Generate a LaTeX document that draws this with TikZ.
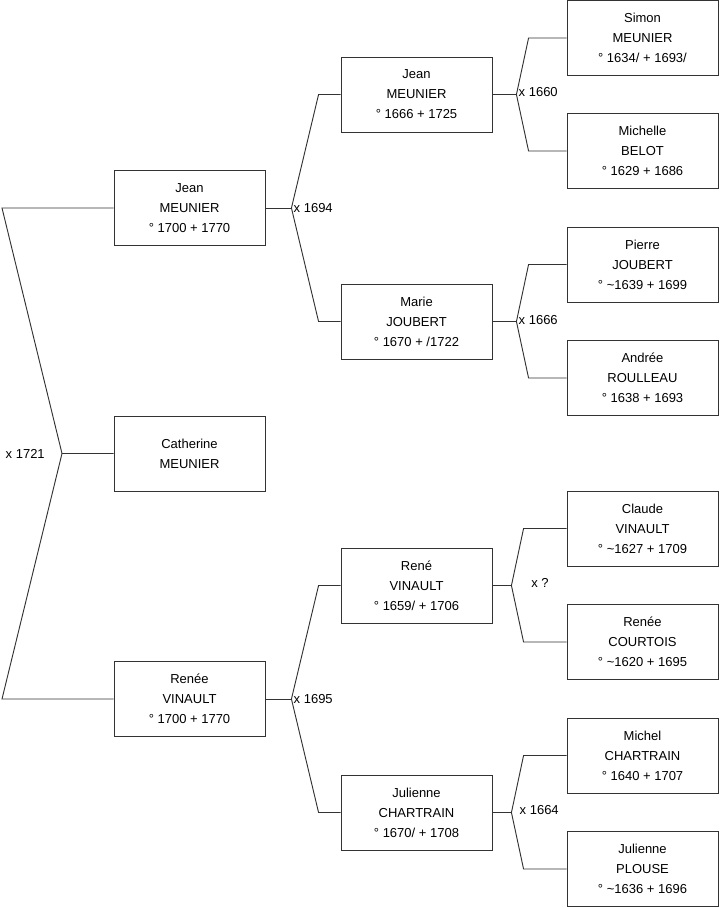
\documentclass[tikz,border=0pt]{standalone}
\usepackage{fontspec}
\setmainfont{Liberation Sans}
\usetikzlibrary{calc}
\begin{document}
\begin{tikzpicture}[x=0.75pt,y=-0.75pt,
  person/.style={draw=black!80, line width=0.65pt, fill=white, minimum width=113.25pt, minimum height=56.25pt, inner sep=0pt, align=center, font=\fontsize{9.75}{15}\selectfont},
  link/.style={draw=black!80, line width=0.7pt},
  marr/.style={font=\fontsize{9.75}{11}\selectfont, inner sep=1.5pt}]
\useasboundingbox (0,0) rectangle (719,908);
% generation 1
\node[person] (g1a) at (189.5,208) {Jean\\MEUNIER\\° 1700 + 1770};
\node[person] (g1b) at (189.5,453.5) {Catherine\\MEUNIER};
\node[person] (g1c) at (189.5,699) {Renée\\VINAULT\\° 1700 + 1770};
% generation 2
\node[person] (g2a) at (416.5,94.5) {Jean\\MEUNIER\\° 1666 + 1725};
\node[person] (g2b) at (416.5,321.5) {Marie\\JOUBERT\\° 1670 + /1722};
\node[person] (g2c) at (416.5,585.5) {René\\VINAULT\\° 1659/ + 1706};
\node[person] (g2d) at (416.5,812.5) {Julienne\\CHARTRAIN\\° 1670/ + 1708};
% generation 3
\node[person] (g3a) at (642.5,38) {Simon\\MEUNIER\\° 1634/ + 1693/};
\node[person] (g3b) at (642.5,151) {Michelle\\BELOT\\° 1629 + 1686};
\node[person] (g3c) at (642.5,264.5) {Pierre\\JOUBERT\\° \textasciitilde1639 + 1699};
\node[person] (g3d) at (642.5,378) {Andrée\\ROULLEAU\\° 1638 + 1693};
\node[person] (g3e) at (642.5,528.5) {Claude\\VINAULT\\° \textasciitilde1627 + 1709};
\node[person] (g3f) at (642.5,642) {Renée\\COURTOIS\\° \textasciitilde1620 + 1695};
\node[person] (g3g) at (642.5,755.5) {Michel\\CHARTRAIN\\° 1640 + 1707};
\node[person] (g3h) at (642.5,869) {Julienne\\PLOUSE\\° \textasciitilde1636 + 1696};
% root connectors
\coordinate (r0) at (62,453.5);
\coordinate (ra) at (2,208);
\coordinate (rb) at (2,699);
\draw[link] (g1a.west) -- (ra) -- (r0) -- (g1b.west);
\draw[link] (r0) -- (rb) -- (g1c.west);
\node[marr, anchor=east] (m0) at (47,453.5) {x 1721};
% gen1 -> gen2 (Jean)
\draw[link] (g1a.east) -- ++(26,0) coordinate (j1);
\draw[link] (g2a.west) -- ++(-22,0) -- (j1) -- ($(g2b.west)+(-22,0)$) -- (g2b.west);
\node[marr, anchor=west] (m1) at (j1) {x 1694};
% gen1 -> gen2 (Renee)
\draw[link] (g1c.east) -- ++(26,0) coordinate (j2);
\draw[link] (g2c.west) -- ++(-22,0) -- (j2) -- ($(g2d.west)+(-22,0)$) -- (g2d.west);
\node[marr, anchor=west] (m2) at (j2) {x 1695};
% gen2 -> gen3 (Jean)
\draw[link] (g2a.east) -- ++(24,0) coordinate (j3);
\draw[link] (g3a.west) -- ++(-38,0) -- (j3) -- ($(g3b.west)+(-38,0)$) -- (g3b.west);
\node[marr, anchor=west] (m3) at ($(j3)+(0,-2)$) {x 1660};
% gen2 -> gen3 (Marie)
\draw[link] (g2b.east) -- ++(24,0) coordinate (j4);
\draw[link] (g3c.west) -- ++(-38,0) -- (j4) -- ($(g3d.west)+(-38,0)$) -- (g3d.west);
\node[marr, anchor=west] (m4) at ($(j4)+(0,-1)$) {x 1666};
% gen2 -> gen3 (Rene)
\draw[link] (g2c.east) -- ++(19,0) coordinate (j5);
\draw[link] (g3e.west) -- ++(-43,0) -- (j5) -- ($(g3f.west)+(-43,0)$) -- (g3f.west);
\node[marr] (m5) at (540,583) {x ?};
% gen2 -> gen3 (Julienne)
\draw[link] (g2d.east) -- ++(19,0) coordinate (j6);
\draw[link] (g3g.west) -- ++(-43,0) -- (j6) -- ($(g3h.west)+(-43,0)$) -- (g3h.west);
\node[marr, anchor=west] (m6) at ($(j6)+(6,-2)$) {x 1664};
\end{tikzpicture}
\end{document}
